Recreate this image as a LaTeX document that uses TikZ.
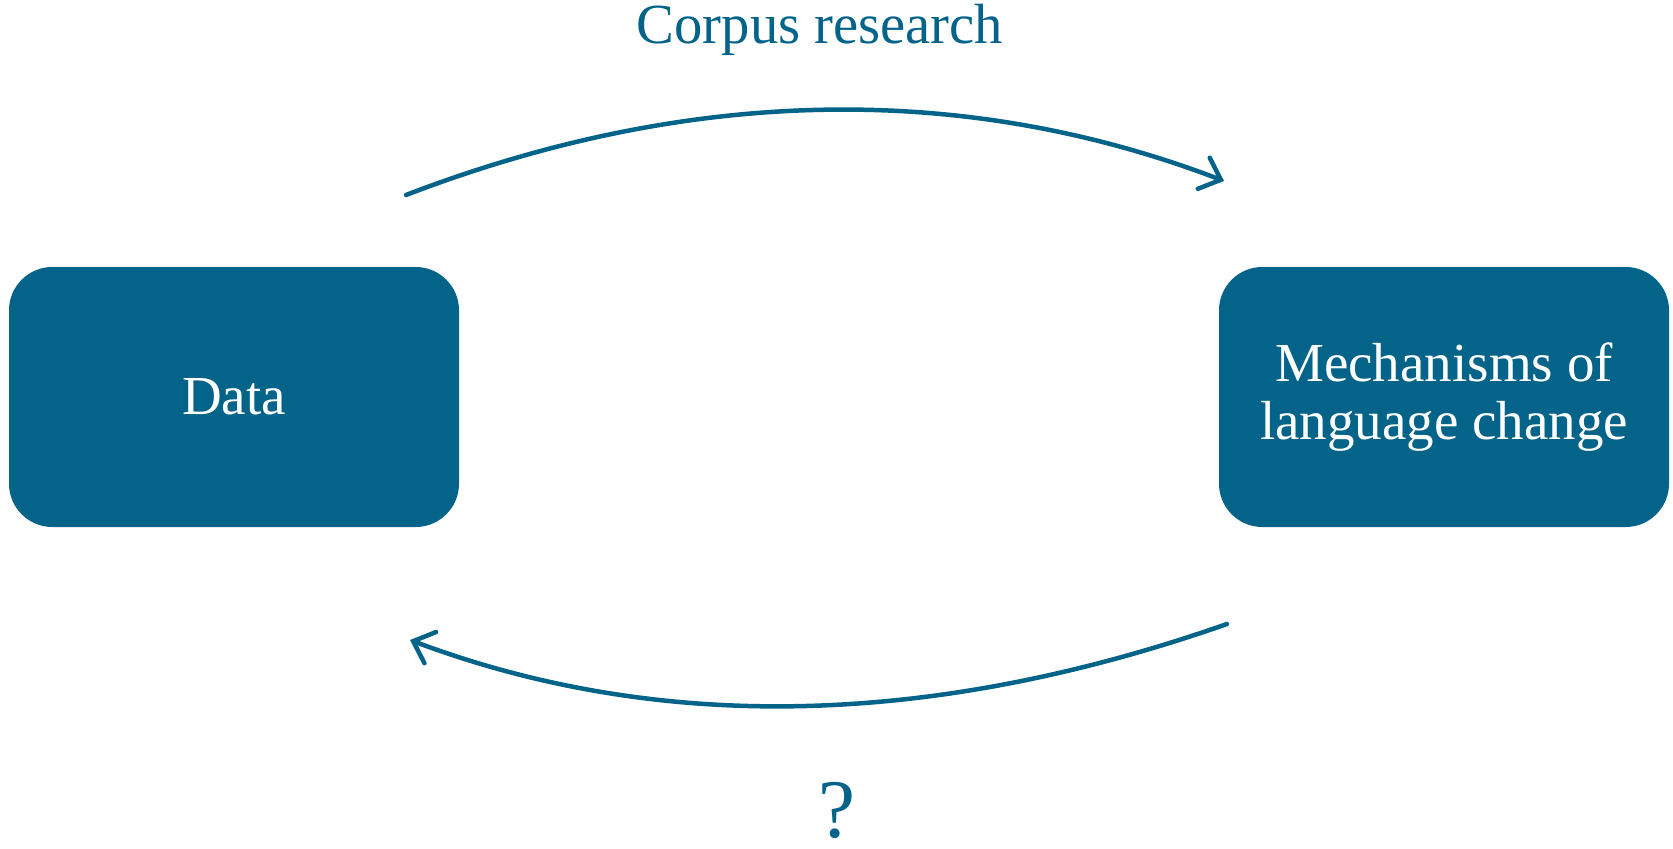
\documentclass[tikz,border=0pt]{standalone}
\usepackage{fontspec}
\setmainfont{Liberation Serif}
\usetikzlibrary{arrows.meta}
\definecolor{petrol}{RGB}{3,99,136}

\begin{document}
\begin{tikzpicture}[x=0.3pt,y=-0.3pt]
      \tikzstyle{box} = [fill=petrol,rounded corners=13pt,minimum width=135pt,minimum height=78pt,text=white,align=center,font=\fontsize{16.5}{17.2}\selectfont]
      \tikzstyle{label} = [text=petrol,inner sep=0pt]
      \tikzstyle{flow} = [petrol,line width=1.35pt,line cap=round,-{Straight Barb[length=5.5pt,width=10pt,line cap=round]}]

      \useasboundingbox (0,0) rectangle (1673,849);

      \node[box](data) at (234,397) {Data};
      \node[box](mech) at (1444,397) {Mechanisms of\\language change};

      \coordinate (t1) at (406,195);
      \coordinate (t2) at (1224,181);
      \coordinate (b1) at (1227,624);
      \coordinate (b2) at (410,640);

      \node[label,font=\fontsize{17}{20}\selectfont](corpus) at (820,30) {Corpus research};
      \node[label,font=\fontsize{25}{28}\selectfont](query) at (837,810) {?};

      \draw[flow] (t1) .. controls (690,86) and (965,82) .. (t2);
      \draw[flow] (b1) .. controls (930,728) and (658,733) .. (b2);

    \end{tikzpicture}
\end{document}
